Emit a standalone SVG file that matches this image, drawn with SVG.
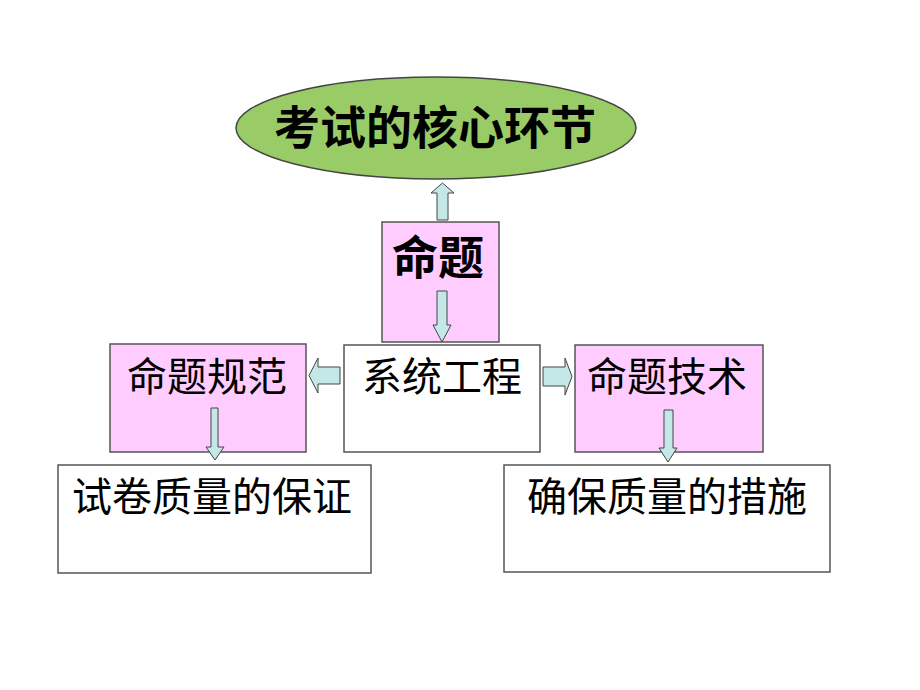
<svg xmlns="http://www.w3.org/2000/svg" width="920" height="690" viewBox="0 0 920 690">
<style>
.box{stroke:#555;stroke-width:1.5}
.pink{fill:#FFCCFF}
.white{fill:#FFFFFF}
.arrow{fill:#C4E8E8;stroke:#444;stroke-width:1}
text{font-family:"Noto Sans CJK SC","Liberation Sans",sans-serif;fill:#000;text-anchor:middle}
.t{font-size:40px}
.b{font-weight:bold}
</style>
<rect width="920" height="690" fill="#FFFFFF"/>
<g id="core">
<ellipse cx="436" cy="128" rx="200" ry="51" fill="#99CC66" stroke="#444" stroke-width="1.5"/>
<text x="435" y="144" class="b" font-size="46">考试的核心环节</text>
</g>
<g id="mingti">
<rect x="382" y="222" width="117" height="120" class="box pink"/>
<text x="438" y="274" class="b" font-size="46">命题</text>
</g>
<g id="xitong">
<rect x="344" y="345" width="196" height="107" class="box white"/>
<text x="442" y="391" class="t">系统工程</text>
</g>
<g id="guifan">
<rect x="110" y="344" width="196" height="108" class="box pink"/>
<text x="207" y="391" class="t">命题规范</text>
</g>
<g id="jishu">
<rect x="575" y="345" width="188" height="107" class="box pink"/>
<text x="667" y="391" class="t">命题技术</text>
</g>
<g id="baozheng">
<rect x="58" y="465" width="313" height="108" class="box white"/>
<text x="212" y="511" class="t">试卷质量的保证</text>
</g>
<g id="cuoshi">
<rect x="504" y="465" width="326" height="107" class="box white"/>
<text x="667" y="511" class="t">确保质量的措施</text>
</g>
<g id="connectors">
<polygon class="arrow" points="437,220 437,193 431,193 442.5,183 454,193 448,193 448,220"/>
<polygon class="arrow" points="437,291 447,291 447,325 451,325 442,342 433,325 437,325"/>
<polygon class="arrow" points="340,367 318,367 318,358 309,375.5 318,393 318,384 340,384"/>
<polygon class="arrow" points="543,367 565,367 565,358 572,376.5 565,395 565,386 543,386"/>
<polygon class="arrow" points="211,408 218,408 218,447 224,447 215,460 206,447 211,447"/>
<polygon class="arrow" points="664,410 673,410 673,448 677,448 668,462 659,448 664,448"/>
</g>
</svg>
